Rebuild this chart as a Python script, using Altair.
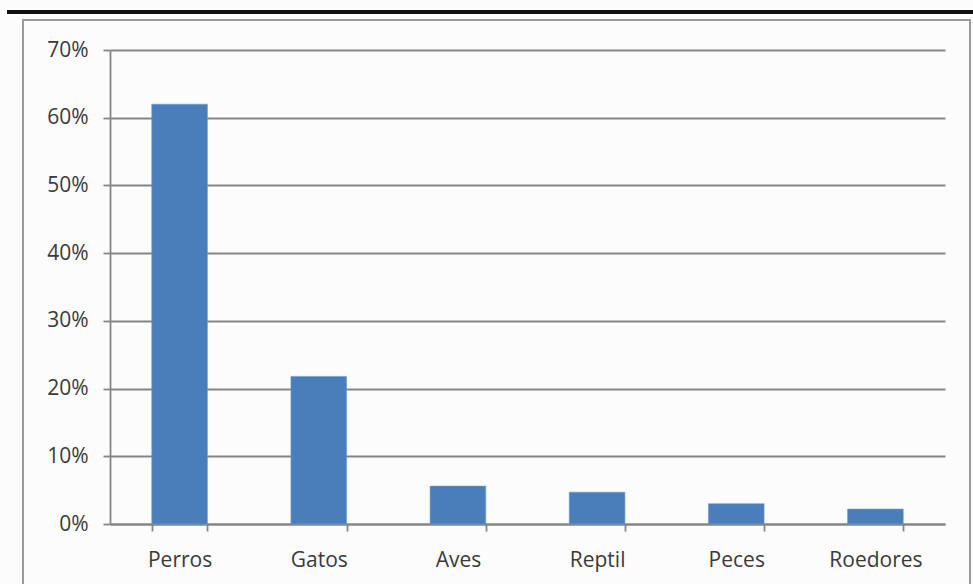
import altair as alt
import pandas as pd

# Share of pets by type
animales = ["Perros", "Gatos", "Aves", "Reptil", "Peces", "Roedores"]
porcentajes = [0.62, 0.218, 0.056, 0.047, 0.030, 0.022]
ticks_y = [0, 0.1, 0.2, 0.3, 0.4, 0.5, 0.6, 0.7]

df = pd.DataFrame({"animal": animales, "valor": porcentajes})

FONT = "Open Sans"
GRAY = "#858585"
TEXT = "#3a3a3a"

base = alt.Chart(df)

bars = base.mark_bar(color="#4a7ebb", stroke="#6d9ad0", strokeWidth=0.6).encode(
    x=alt.X(
        "animal:N",
        sort=animales,
        scale=alt.Scale(paddingInner=0.6, paddingOuter=0.3),
        axis=alt.Axis(
            title=None,
            labelAngle=0,
            labelFont=FONT,
            labelFontSize=21,
            labelColor=TEXT,
            labelPadding=18,
            labelBaseline="top",
            domainColor=GRAY,
            domainWidth=1.8,
            tickColor=GRAY,
            tickWidth=1.8,
            tickSize=7,
            tickBand="extent",
            grid=False,
        ),
    ),
    y=alt.Y(
        "valor:Q",
        scale=alt.Scale(domain=[0, 0.7], nice=False),
        axis=alt.Axis(
            title=None,
            values=ticks_y,
            format=".0%",
            labelFont=FONT,
            labelFontSize=21,
            labelColor=TEXT,
            labelPadding=15,
            domainColor=GRAY,
            domainWidth=1.8,
            tickColor=GRAY,
            tickWidth=1.8,
            tickSize=7,
            grid=True,
            gridColor=GRAY,
            gridWidth=1.8,
        ),
    ),
)

# Outer frame and heavy top rule around the chart
frame = base.mark_rect(
    fill=None, stroke="#9a9a9a", strokeWidth=2, clip=False
).encode(
    x=alt.value(-87), x2=alt.value(860), y=alt.value(-30), y2=alt.value(600)
)
top_rule = base.mark_rule(color="#111111", strokeWidth=4, clip=False).encode(
    x=alt.value(-103), x2=alt.value(870), y=alt.value(-38)
)

chart = (
    alt.layer(frame, top_rule, bars)
    .properties(
        width=835,
        height=474,
        autosize=alt.AutoSizeParams(type="none"),
        padding={"left": 110, "top": 50, "right": 28, "bottom": 60},
        background="#fcfcfc",
    )
    .configure_view(stroke=None)
)

chart.save("out.html", embed_options={"renderer": "svg", "actions": False})
